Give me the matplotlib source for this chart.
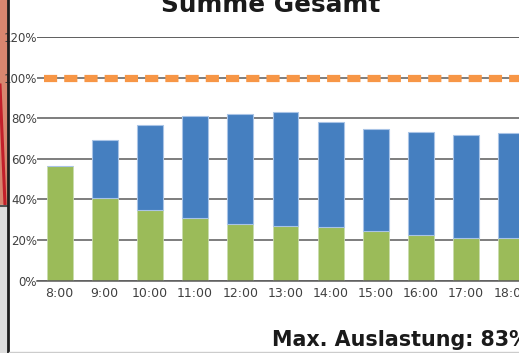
import matplotlib
matplotlib.use("Agg")
import matplotlib.pyplot as plt
from matplotlib.patches import Rectangle
from matplotlib.lines import Line2D
import numpy as np

hours = ["8:00", "9:00", "10:00", "11:00", "12:00", "13:00",
         "14:00", "15:00", "16:00", "17:00", "18:00"]
green_part = [56.5, 40.9, 34.8, 31.0, 27.9, 27.1, 26.3, 24.4, 22.5, 21.1, 20.8]
total = [56.5, 69.4, 76.6, 80.9, 82.2, 83.2, 77.9, 74.7, 73.2, 71.9, 72.5]
y_ticks = [0, 20, 40, 60, 80, 100, 120]
limit = 100

W, H = 519, 353
fig = plt.figure(figsize=(W / 100, H / 100), dpi=100)

# axes runs past the right edge like in the cropped screenshot
ax = fig.add_axes([37 / W, 72.5 / H, 497 / W, 243.5 / H])
x = np.arange(len(hours))
blue_part = [t - g for t, g in zip(total, green_part)]

ax.set_axisbelow(True)
ax.yaxis.grid(True, color="#5a5a5a", linewidth=1.1)
ax.bar(x, green_part, width=0.575, color="#9BBB59", edgecolor="#c9dcae", linewidth=0.6)
ax.bar(x, blue_part, width=0.575, bottom=green_part, color="#457FC0",
       edgecolor="#a9c4e6", linewidth=0.8)
ax.axhline(limit, color="#F79646", linewidth=5.2,
           linestyle=(1.9, (1.82, 0.98)), solid_capstyle="butt", dash_capstyle="butt")

ax.set_xlim(-0.5, len(hours) - 0.5)
ax.set_ylim(0, 120)
ax.set_yticks(y_ticks)
ax.set_yticklabels([f"{v}%" for v in y_ticks])
ax.set_xticks(x)
ax.set_xticklabels(hours)
for s in ["top", "right", "left"]:
    ax.spines[s].set_visible(False)
ax.spines["bottom"].set_color("#5a5a5a")
ax.spines["bottom"].set_linewidth(1.1)
ax.tick_params(axis="y", length=0, pad=0, labelsize=8.5, labelcolor="#404040")
ax.tick_params(axis="x", length=0, pad=5, labelsize=9, labelcolor="#404040")
ax.get_ygridlines()[-1].set_color("#333333")

fig.text(271 / W, (H - 11.5) / H, "Summe Gesamt", ha="center", va="baseline",
         fontsize=17.8, fontweight="bold", color="#1a1a1a")
fig.text(272 / W, (H - 346) / H, "Max. Auslastung: 83%", ha="left", va="baseline",
         fontsize=14.9, fontweight="bold", color="#1a1a1a")

# left edge of the screenshot: background strip and frame line
fig.add_artist(Rectangle((0, (H - 205) / H), 7 / W, 205 / H, transform=fig.transFigure,
                         color="#d8866f", zorder=0))
fig.add_artist(Rectangle((0, 0), 7 / W, (H - 205) / H, transform=fig.transFigure,
                         color="#dedede", zorder=0))
fig.add_artist(Line2D([0, 5 / W], [(H - 85) / H, (H - 205) / H], transform=fig.transFigure,
                      color="#c21f2a", linewidth=2.2))
fig.add_artist(Line2D([0, 7 / W], [(H - 206) / H, (H - 206) / H], transform=fig.transFigure,
                      color="#555555", linewidth=1.5))
fig.add_artist(Line2D([8 / W, 8 / W], [0, 1], transform=fig.transFigure,
                      color="#1e1e1e", linewidth=2.0))
fig.add_artist(Line2D([9 / W, 1], [1.5 / H, 1.5 / H], transform=fig.transFigure,
                      color="#cccccc", linewidth=1.0))

fig.savefig("out.png", dpi=100)
